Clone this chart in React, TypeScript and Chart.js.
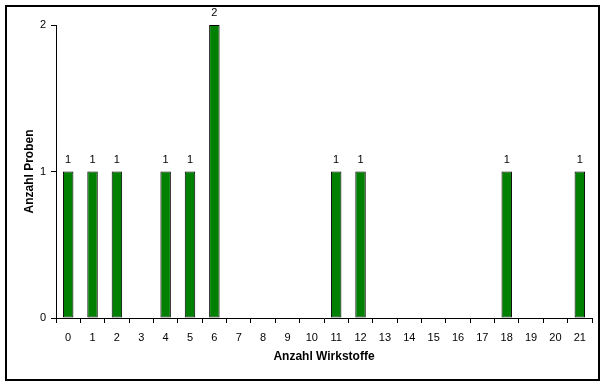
import React, { useEffect, useRef } from "react";
import { Chart, registerables } from "chart.js";
Chart.register(...registerables);

const categories = ["0","1","2","3","4","5","6","7","8","9","10","11","12","13","14","15","16","17","18","19","20","21"];
const counts = [1, 1, 1, null, 1, 1, 2, null, null, null, null, 1, 1, null, null, null, null, null, 1, null, null, 1];
const yTicks = [0, 1, 2];
const xTitle = "Anzahl Wirkstoffe";
const yTitle = "Anzahl Proben";

const FONT = "'Liberation Sans', Arial, sans-serif";

const decor = {
  id: "decor",
  afterDatasetsDraw(chart: any) {
    const ctx = chart.ctx;
    const meta = chart.getDatasetMeta(0);
    ctx.save();
    ctx.fillStyle = "#000";
    ctx.font = `11px ${FONT}`;
    ctx.textAlign = "center";
    ctx.textBaseline = "alphabetic";
    meta.data.forEach((el: any, i: number) => {
      const v = counts[i];
      if (v == null) return;
      ctx.fillText(String(v), el.x, el.y - 9);
    });
    ctx.restore();
  },
  afterDraw(chart: any) {
    const ctx = chart.ctx;
    ctx.save();
    ctx.strokeStyle = "#000";
    ctx.lineWidth = 2;
    ctx.strokeRect(6, 6, 593, 374);
    ctx.restore();
  },
};

export default function App() {
  const ref = useRef<HTMLCanvasElement>(null);
  useEffect(() => {
    if (!ref.current) return;
    const chart = new Chart(ref.current, {
      type: "bar",
      data: {
        labels: categories,
        datasets: [
          {
            data: counts as any,
            backgroundColor: "#008000",
            borderColor: "#000000",
            borderWidth: 1,
            borderSkipped: false,
            barPercentage: 0.43,
            categoryPercentage: 1,
          },
        ],
      },
      options: {
        animation: false,
        responsive: false,
        layout: { padding: { left: 0, right: 12, top: 25, bottom: 0 } },
        plugins: { legend: { display: false }, tooltip: { enabled: false } },
        scales: {
          x: {
            afterFit(s: any) { s.height = 68; },
            grid: { drawOnChartArea: false, drawTicks: true, tickLength: 5, color: "#000", offset: true },
            border: { display: true, color: "#000", width: 1 },
            ticks: { color: "#000", font: { family: FONT, size: 11 }, padding: 8, maxRotation: 0, autoSkip: false },
            title: { display: true, text: xTitle, color: "#000", font: { family: FONT, size: 12, weight: "bold" }, padding: { top: 0, bottom: 22 } },
          },
          y: {
            min: 0,
            max: 2,
            afterFit(s: any) { s.width = 56; },
            afterBuildTicks(s: any) { s.ticks = yTicks.map((v) => ({ value: v })); },
            grid: { drawOnChartArea: false, drawTicks: true, tickLength: 5, color: "#000" },
            border: { display: true, color: "#000", width: 1 },
            ticks: { color: "#000", font: { family: FONT, size: 11 }, padding: 5 },
            title: { display: true, text: yTitle, color: "#000", font: { family: FONT, size: 12, weight: "bold" }, padding: { top: 22, bottom: 0 } },
          },
        },
      },
      plugins: [decor],
    });
    return () => chart.destroy();
  }, []);
  return (
    <div style={{ position: "fixed", left: 0, top: 0, width: 604, height: 386, background: "#fff" }}>
      <canvas ref={ref} width={604} height={386} style={{ display: "block" }} />
    </div>
  );
}
